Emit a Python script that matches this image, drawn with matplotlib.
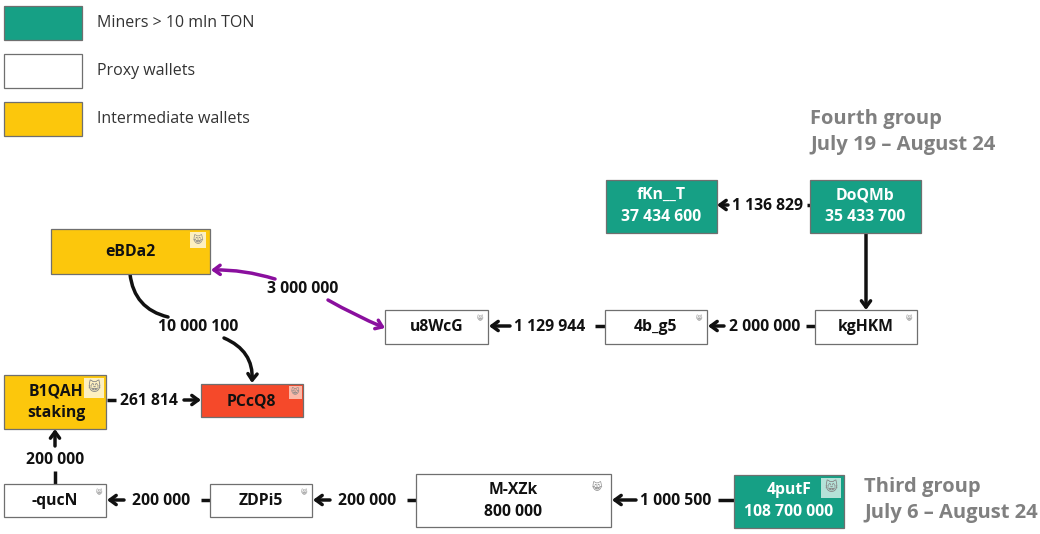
#!/usr/bin/env python3
import matplotlib

matplotlib.use("Agg")
import matplotlib.pyplot as plt
from matplotlib.patches import FancyArrowPatch, Rectangle

GREEN = "#16a085"
YELLOW = "#fcc70c"
RED = "#f5492a"
WHITE = "#ffffff"
EDGE = "#6f6f6f"
PURPLE = "#8a0f9e"
GREY = "#808080"
INK = "#111111"

legend_labels = ["Miners > 10 mln TON", "Proxy wallets", "Intermediate wallets"]
legend_colors = [GREEN, WHITE, YELLOW]
legend_y = [6, 54, 102]

# x0, y0, x1, y1 in image pixels
node_names = ["fKn__T\n37 434 600", "DoQMb\n35 433 700", "eBDa2", "B1QAH\nstaking", "PCcQ8",
              "u8WcG", "4b_g5", "kgHKM", "-qucN", "ZDPi5", "M-XZk\n800 000", "4putF\n108 700 000"]
node_boxes = [(606, 180, 717, 233), (810, 180, 921, 233), (51, 229, 210, 274), (4, 375, 106, 429),
              (201, 384, 303, 417), (385, 310, 488, 344), (605, 310, 707, 344), (815, 310, 917, 344),
              (4, 484, 106, 517), (210, 484, 312, 517), (416, 474, 611, 527), (734, 475, 844, 528)]
node_fill = [GREEN, GREEN, YELLOW, YELLOW, RED, WHITE, WHITE, WHITE, WHITE, WHITE, WHITE, GREEN]
node_text = [WHITE, WHITE, INK, INK, INK, INK, INK, INK, INK, INK, INK, WHITE]
text_xy = [(661, 206), (865, 206), (130, 252), (56, 402), (251, 401), (437, 327), (656, 327),
           (866, 327), (55, 501), (261, 501), (513, 501), (789, 501)]

# cat badge: centre x, centre y, size
cat_badges = [(198, 240, 16), (94, 388, 20), (295, 392, 13), (480, 318, 10), (699, 318, 10),
              (909, 318, 10), (99, 492, 10), (304, 492, 10), (597, 487, 16), (831, 488, 20)]
cat_bg = ["#fdf0c0", "#fdf0c0", "#fbb8a8", WHITE, WHITE, WHITE, WHITE, WHITE, WHITE, "#b5e2d8"]

flow_labels = ["1 136 829", "2 000 000", "1 129 944", "3 000 000", "10 000 100", "261 814",
               "200 000", "200 000", "200 000", "1 000 500"]
flow_xy = [(767, 206), (765, 327), (550, 327), (303, 289), (198, 327), (149, 401),
           (55, 460), (161, 501), (367, 501), (676, 501)]

# tail stubs and arrow parts of the straight flows
stubs = [((807, 205), (810, 205)), ((815, 326), (806, 326)), ((605, 326), (595, 326)),
         ((107, 400), (116, 400)), ((55, 484), (55, 471)), ((210, 500), (201, 500)),
         ((416, 500), (407, 500)), ((734, 500), (718, 500))]
arrows = [((728, 205), (717, 205)), ((724, 326), (708, 326)), ((510, 326), (489, 326)),
          ((184, 400), (201, 400)), ((55, 446), (55, 429)), ((124, 500), (107, 500)),
          ((330, 500), (313, 500)), ((636, 500), (612, 500)), ((866, 233), (866, 310))]

HEAD = "->,head_length=4.5,head_width=3.3"

plt.rcParams["font.family"] = ["Open Sans", "DejaVu Sans"]

fig = plt.figure(figsize=(10.4, 5.34), dpi=100)
ax = fig.add_axes([0, 0, 1, 1])
ax.set_xlim(0, 1040)
ax.set_ylim(534, 0)
ax.axis("off")

for label, color, y in zip(legend_labels, legend_colors, legend_y):
    ax.add_patch(Rectangle((4, y), 78, 34, fc=color, ec=EDGE, lw=0.9))
    ax.text(97, y + 17, label, fontsize=11.5, color="#333333", va="center")

for a, b in stubs:
    ax.plot([a[0], b[0]], [a[1], b[1]], color=INK, lw=2.5, solid_capstyle="butt", zorder=2)
for a, b in arrows:
    ax.add_patch(FancyArrowPatch(a, b, arrowstyle=HEAD, color=INK, lw=2.5, shrinkA=0, shrinkB=0, zorder=2))

# curved flows
ax.add_patch(FancyArrowPatch((130, 274), (168, 317), arrowstyle="-", color=INK, lw=2.5,
                             connectionstyle="arc3,rad=0.35", shrinkA=0, shrinkB=0))
ax.add_patch(FancyArrowPatch((224, 338), (252, 383), arrowstyle=HEAD, color=INK, lw=2.5,
                             connectionstyle="arc3,rad=-0.35", shrinkA=0, shrinkB=0))
ax.add_patch(FancyArrowPatch((275, 279), (211, 270), arrowstyle=HEAD, color=PURPLE, lw=2.5,
                             connectionstyle="arc3,rad=0.08", shrinkA=0, shrinkB=0))
ax.add_patch(FancyArrowPatch((328, 300), (385, 328), arrowstyle=HEAD, color=PURPLE, lw=2.5,
                             connectionstyle="arc3,rad=0.03", shrinkA=0, shrinkB=0))

for name, box, fill, tc, xy in zip(node_names, node_boxes, node_fill, node_text, text_xy):
    ax.add_patch(Rectangle((box[0], box[1]), box[2] - box[0], box[3] - box[1], fc=fill, ec=EDGE,
                           lw=0.9, zorder=3))
    lines = name.split("\n")
    for i, line in enumerate(lines):
        y = xy[1] + (i - (len(lines) - 1) / 2) * 22
        ax.text(xy[0], y, line, fontsize=11.3, fontweight="bold", color=tc, ha="center",
                va="center", zorder=5)

for (cx, cy, s), bg in zip(cat_badges, cat_bg):
    ax.add_patch(Rectangle((cx - s / 2, cy - s / 2), s, s, fc=bg, ec="none", zorder=4))
    ax.text(cx, cy, "\U0001F638", family="DejaVu Sans", fontsize=s * 0.45, color="#888888",
            ha="center", va="center", zorder=5)

for label, xy in zip(flow_labels, flow_xy):
    ax.text(xy[0], xy[1], label, fontsize=11.3, fontweight="bold", color=INK, ha="center",
            va="center", zorder=5)

ax.text(810, 132, "Fourth group\nJuly 19 – August 24", fontsize=14.5, fontweight="bold", color=GREY,
        ha="left", va="center", linespacing=1.42)
ax.text(864, 500, "Third group\nJuly 6 – August 24", fontsize=14.5, fontweight="bold", color=GREY,
        ha="left", va="center", linespacing=1.42)

fig.savefig("out.png", dpi=100)
